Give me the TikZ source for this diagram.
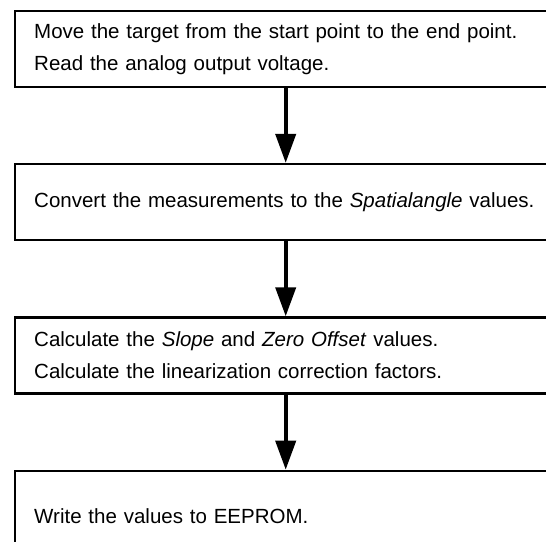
\documentclass[tikz,border=0pt]{standalone}
\usepackage{fontspec}
\setmainfont{Liberation Sans}
\usepackage{tikz}
\usetikzlibrary{arrows.meta,positioning}

\begin{document}
\begin{tikzpicture}[x=1pt,y=1pt,
  stepbox/.style={draw,line width=2.4pt,rectangle,minimum height=76pt,
    text width=503pt,inner xsep=19.5pt,align=left,
    font=\fontsize{20.5pt}{32pt}\selectfont},
  flowarrow/.style={-{Triangle[width=20pt,length=29pt]},line width=4pt}]
  \useasboundingbox (0,0) rectangle (546,-541);
  % calibration steps, top to bottom
  \node[stepbox,anchor=north west,yshift=3pt] (move) at (13.5,-12.5)
    {Move the target from the start point to the end point.\\Read the analog output voltage.};
  \node[stepbox,below=75pt of move] (convert)
    {Convert the measurements to the \textit{Spatialangle} values.};
  \node[stepbox,below=75pt of convert] (calc)
    {Calculate the \textit{Slope} and \textit{Zero Offset} values.\\Calculate the linearization correction factors.};
  \node[stepbox,below=75pt of calc,minimum height=91pt] (write) {Write the values to EEPROM.};
  % arrows between steps
  \draw[flowarrow] (move) -- (convert);
  \draw[flowarrow] (convert) -- (calc);
  \draw[flowarrow] (calc) -- (write);
\end{tikzpicture}
\end{document}
